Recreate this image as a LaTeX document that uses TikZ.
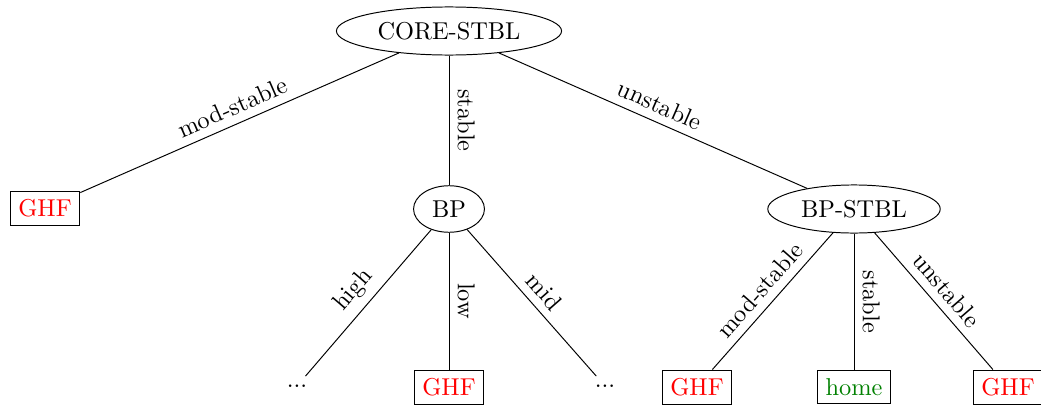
\documentclass[tikz,border=0pt]{standalone}
\usetikzlibrary{shapes.geometric}
\begin{document}
\begin{tikzpicture}[x=0.41pt,y=-0.41pt,
  decision/.style={draw,ellipse},
  leaf/.style={draw,rectangle},
  ghf/.style={leaf,text=red},
  homebox/.style={leaf,text=green!50!black},
  more/.style={inner sep=3.33pt},
  lbl/.style={midway,sloped,above}]
\useasboundingbox (0,0) rectangle (1041,406);
% decision nodes
\node[decision] (core) at (449,31) {CORE-STBL};
\node[decision] (bp) at (449,209) {BP};
\node[decision] (bps) at (854,209) {BP-STBL};
% leaves
\node[ghf] (g1) at (45,208) {GHF};
\node[more] (d1) at (297,386) {...};
\node[ghf] (g2) at (449,387) {GHF};
\node[more] (d2) at (605,386) {...};
\node[ghf] (g3) at (697,387) {GHF};
\node[homebox] (h1) at (854,387) {home};
\node[ghf] (g4) at (1008,387) {GHF};
% branches
\draw (core) -- node[lbl] {mod-stable} (g1);
\draw (core) -- node[lbl] {stable} (bp);
\draw (core) -- node[lbl] {unstable} (bps);
\draw (bp) -- node[lbl] {high} (d1);
\draw (bp) -- node[lbl] {low} (g2);
\draw (bp) -- node[lbl] {mid} (d2);
\draw (bps) -- node[lbl] {mod-stable} (g3);
\draw (bps) -- node[lbl] {stable} (h1);
\draw (bps) -- node[lbl] {unstable} (g4);
\end{tikzpicture}
\end{document}
